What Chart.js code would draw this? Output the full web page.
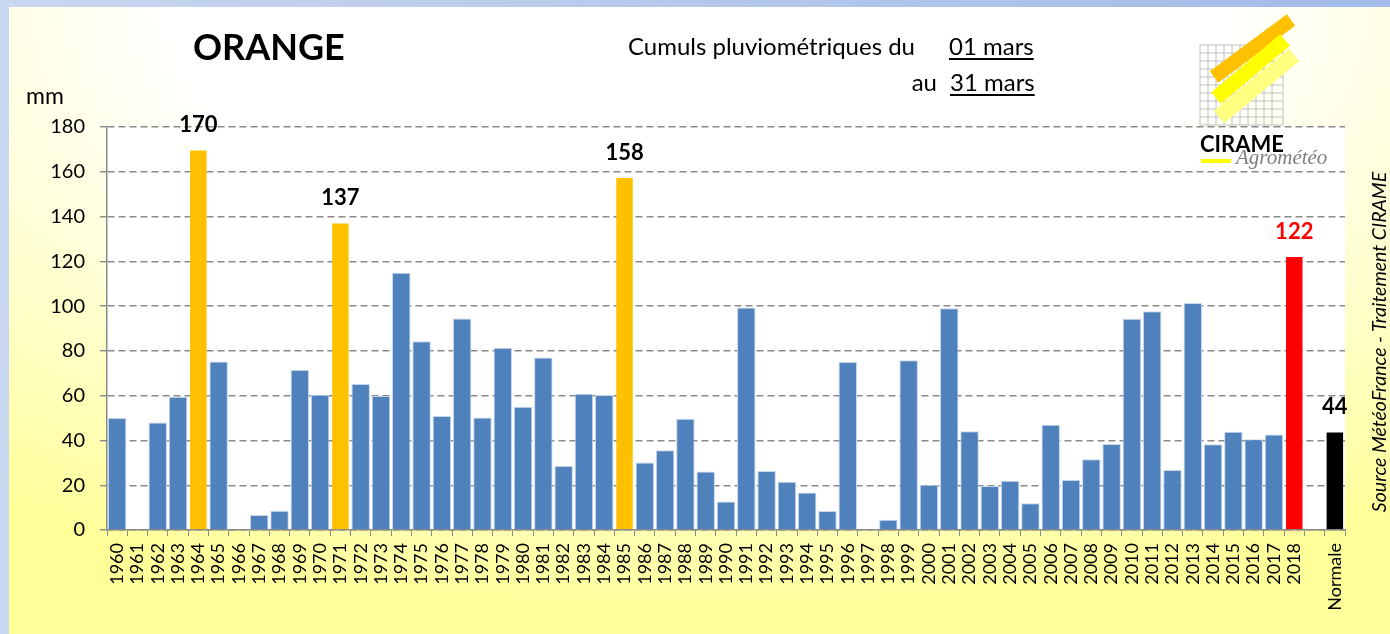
<!DOCTYPE html>
<html><head><meta charset="utf-8">
<script src="https://cdn.jsdelivr.net/npm/chart.js@4.4.1/dist/chart.umd.min.js"></script>
<style>
html,body{margin:0;padding:0;}
body{width:1390px;height:634px;overflow:hidden;position:relative;background:linear-gradient(to right,#c9d6ef,#a2bbe7);font-family:Lato,sans-serif;}
#panel{position:absolute;left:9px;top:7px;width:1381px;height:627px;background:radial-gradient(ellipse 90% 100% at 50% 0%, #ffffff 42%, #ffff99 98%);}
#c{position:absolute;left:0;top:0;}
.t{position:absolute;white-space:nowrap;line-height:1;color:#000;}
.u{text-decoration:underline;text-decoration-thickness:1.5px;text-underline-offset:3px;}
#logo{position:absolute;left:0;top:0;}
</style></head>
<body>
<div id="panel"></div>
<canvas id="c" width="1390" height="634"></canvas>
<svg id="logo" width="1390" height="634" xmlns="http://www.w3.org/2000/svg">
  <g stroke="#c0c0c0" stroke-width="1">
    <line x1="1200" y1="45" x2="1200" y2="125"/><line x1="1208" y1="45" x2="1208" y2="125"/><line x1="1216" y1="45" x2="1216" y2="125"/><line x1="1224" y1="45" x2="1224" y2="125"/><line x1="1232" y1="45" x2="1232" y2="125"/><line x1="1240" y1="45" x2="1240" y2="125"/><line x1="1248" y1="45" x2="1248" y2="125"/><line x1="1256" y1="45" x2="1256" y2="125"/><line x1="1264" y1="45" x2="1264" y2="125"/><line x1="1272" y1="45" x2="1272" y2="125"/><line x1="1283" y1="45" x2="1283" y2="125"/>
    <line x1="1200" y1="45" x2="1283" y2="45"/><line x1="1200" y1="53" x2="1283" y2="53"/><line x1="1200" y1="61" x2="1283" y2="61"/><line x1="1200" y1="69" x2="1283" y2="69"/><line x1="1200" y1="77" x2="1283" y2="77"/><line x1="1200" y1="85" x2="1283" y2="85"/><line x1="1200" y1="93" x2="1283" y2="93"/><line x1="1200" y1="101" x2="1283" y2="101"/><line x1="1200" y1="109" x2="1283" y2="109"/><line x1="1200" y1="117" x2="1283" y2="117"/><line x1="1200" y1="125" x2="1283" y2="125"/>
  </g>
  <g stroke-linecap="butt" fill="none">
    <line x1="1214" y1="77" x2="1291" y2="20" stroke="#FFC000" stroke-width="14"/>
    <line x1="1216" y1="98" x2="1285" y2="40" stroke="#FFFF00" stroke-width="15"/>
    <line x1="1219" y1="117" x2="1294" y2="55" stroke="#FFFF80" stroke-width="16"/>
  </g>
  <text x="1200" y="152" font-family="Lato" font-weight="bold" font-size="22" fill="#000">CIRAME</text>
  <rect x="1201" y="159" width="30" height="4" fill="#FFFF00"/>
  <text x="1236" y="164" font-family="Liberation Serif" font-style="italic" font-size="21" fill="#7f7f7f">Agrométéo</text>
</svg>
<div class="t" style="left:193px;top:28px;font-size:36px;font-weight:bold;">ORANGE</div>
<div class="t" style="right:475px;top:34px;font-size:24px;">Cumuls pluviométriques du</div>
<div class="t u" style="left:949px;top:34px;font-size:24px;">01 mars</div>
<div class="t" style="right:453px;top:70px;font-size:24px;">au</div>
<div class="t u" style="left:950px;top:70px;font-size:24px;">31 mars</div>
<div class="t" style="left:26px;top:84px;font-size:23px;">mm</div>
<div class="t" style="left:1379px;top:342px;font-size:19.5px;font-style:italic;transform:translate(-50%,-50%) rotate(-90deg);">Source MétéoFrance - Traitement CIRAME</div>
<script>
const years = ['1960','1961','1962','1963','1964','1965','1966','1967','1968','1969',
  '1970','1971','1972','1973','1974','1975','1976','1977','1978','1979',
  '1980','1981','1982','1983','1984','1985','1986','1987','1988','1989',
  '1990','1991','1992','1993','1994','1995','1996','1997','1998','1999',
  '2000','2001','2002','2003','2004','2005','2006','2007','2008','2009',
  '2010','2011','2012','2013','2014','2015','2016','2017','2018'];
const rainfall = [50,0,48,59.5,170,75.3,0.5,6.7,8.6,71.5,
  60.4,137.4,65.2,59.8,114.9,84.3,50.9,94.5,50.3,81.4,
  55.1,77,28.6,60.9,60.3,157.7,30.2,35.6,49.7,26.1,
  12.7,99.4,26.3,21.6,16.8,8.5,75,0.5,4.6,75.8,
  20.2,99,44.1,19.7,22,11.9,47,22.3,31.6,38.4,
  94.4,97.7,26.8,101.4,38.3,43.9,40.5,42.7,122.4];
const normaleLabel = 'Normale';
const normaleValue = 44;
const recordYears = ['1964','1971','1985'];
const currentYear = '2018';
const yTicks = [0,20,40,60,80,100,120,140,160,180];

const labels = years.concat(['', normaleLabel]);
const values = rainfall.concat([null, normaleValue]);
const colors = labels.map(l => l === normaleLabel ? '#000000' : l === currentYear ? '#FF0000' : recordYears.includes(l) ? '#FFC000' : '#4F81BD');
const borders = labels.map(l => (l === normaleLabel || l === currentYear || recordYears.includes(l)) ? 'rgba(0,0,0,0)' : '#c6d7ec');
const labelColor = labels.map(l => l === currentYear ? '#FF0000' : (l === normaleLabel || recordYears.includes(l)) ? '#000000' : null);

const bgPlugin = {
  id: 'bg',
  beforeDraw(chart) {
    const {ctx, chartArea: a} = chart;
    ctx.save(); ctx.fillStyle = '#ffffff';
    ctx.fillRect(a.left, a.top, a.right - a.left, a.bottom - a.top);
    ctx.restore();
  }
};
const valPlugin = {
  id: 'vals',
  afterDatasetsDraw(chart) {
    const {ctx} = chart;
    const meta = chart.getDatasetMeta(0);
    ctx.save();
    ctx.font = 'bold 22px Lato';
    ctx.textAlign = 'center'; ctx.textBaseline = 'alphabetic';
    meta.data.forEach((bar, i) => {
      if (!labelColor[i] || values[i] == null) return;
      ctx.fillStyle = labelColor[i];
      ctx.fillText(String(Math.round(values[i])), bar.x, bar.y - 17);
    });
    ctx.restore();
  }
};

new Chart(document.getElementById('c'), {
  type: 'bar',
  data: { labels, datasets: [{ data: values, backgroundColor: colors, borderColor: borders, borderWidth: 1, borderSkipped: 'bottom', categoryPercentage: 1, barPercentage: 0.91 }] },
  options: {
    responsive: false, animation: false,
    layout: { padding: { left: 0, right: 45, top: 127, bottom: 0 } },
    plugins: { legend: { display: false }, tooltip: { enabled: false } },
    scales: {
      x: {
        grid: { offset: true, drawOnChartArea: false, drawTicks: true, tickLength: 6, color: '#8a8a8a', lineWidth: 1 },
        border: { display: true, color: '#8a8a8a', width: 1.5 },
        ticks: { autoSkip: false, maxRotation: 90, minRotation: 90, padding: 7, color: '#000', font: { family: 'Lato', size: 18 } },
        afterFit(s) { s.height = 104; }
      },
      y: {
        min: 0, max: 180,
        afterBuildTicks(s) { s.ticks = yTicks.map(v => ({ value: v })); },
        grid: { color: '#8a8a8a', lineWidth: 1.4, tickLength: 7, tickColor: '#8a8a8a', tickBorderDash: [] },
        border: { display: true, color: '#8a8a8a', width: 1.5, dash: [7, 4] },
        ticks: { padding: 15, color: '#000', font: { family: 'Lato', size: 20 } },
        afterFit(s) { s.width = 107; }
      }
    }
  },
  plugins: [bgPlugin, valPlugin]
});
</script>
</body></html>
